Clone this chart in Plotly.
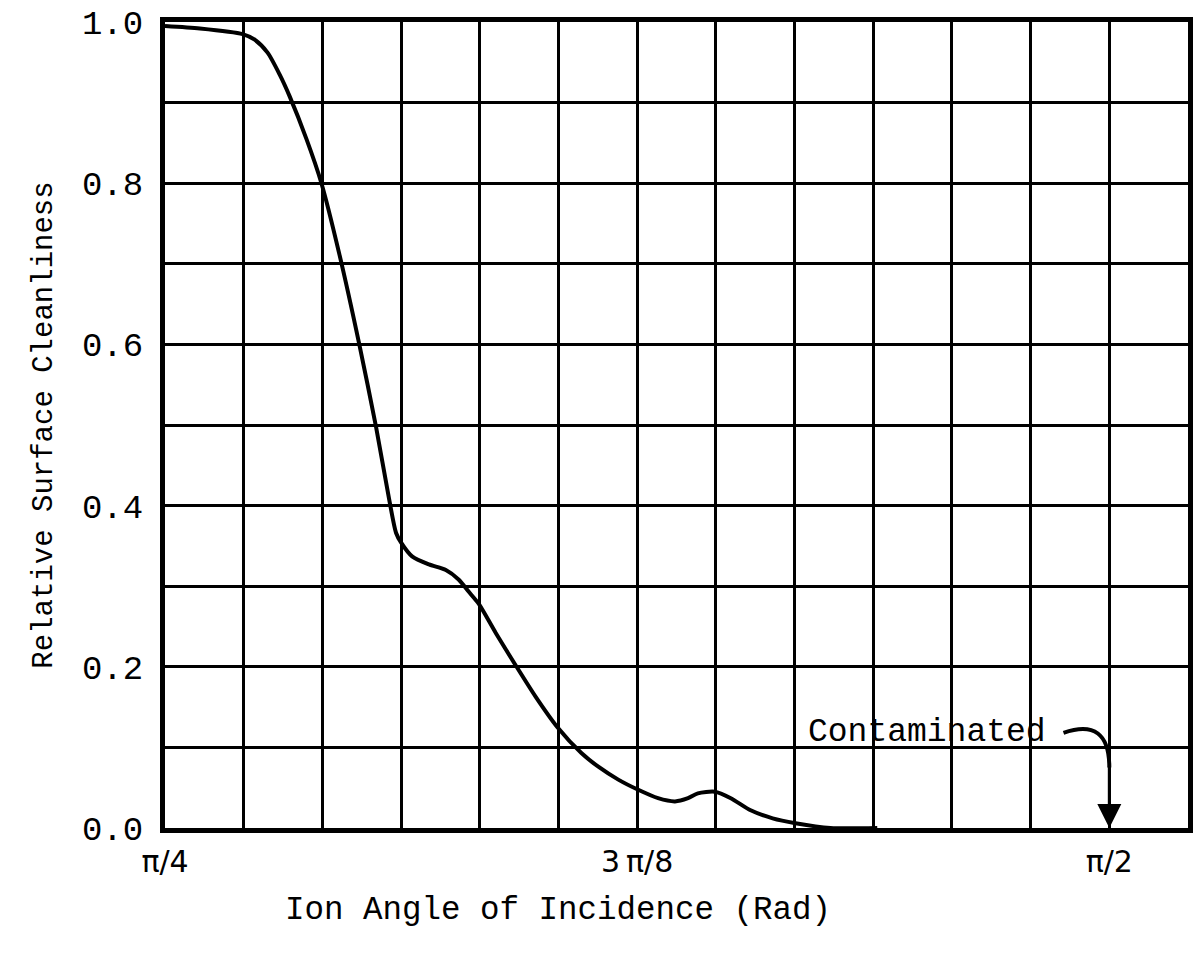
import plotly.graph_objects as go

# Ion angle of incidence (rad) and relative surface cleanliness
angle = [0.7854, 0.8144, 0.8500, 0.8600, 0.8707, 0.8807, 0.8890, 0.9030, 0.9155,
         0.9304, 0.9470, 0.9610, 0.9718, 0.9776, 0.9818, 0.9909, 1.0049, 1.0190,
         1.0298, 1.0381, 1.0464, 1.0605, 1.0770, 1.0936, 1.1118, 1.1317, 1.1458,
         1.1624, 1.1781, 1.1955, 1.2096, 1.2204, 1.2286, 1.2427, 1.2560, 1.2725,
         1.2908, 1.3098, 1.3388, 1.3778]
cleanliness = [0.995, 0.992, 0.985, 0.978, 0.962, 0.935, 0.908, 0.855, 0.800,
               0.712, 0.600, 0.497, 0.408, 0.366, 0.354, 0.337, 0.327, 0.320,
               0.308, 0.293, 0.278, 0.242, 0.202, 0.163, 0.125, 0.093, 0.076,
               0.060, 0.048, 0.037, 0.033, 0.037, 0.043, 0.045, 0.037, 0.022,
               0.012, 0.006, 0.0, 0.0]

PI = 3.141592653589793
x_grid_step = PI / 48
x_tickvals = [PI / 4 + k * x_grid_step for k in range(14)]
x_ticktext = ["π/4", "", "", "", "", "", "3\u2009π/8", "", "", "", "", "", "π/2", ""]
y_tickvals = [0.0, 0.1, 0.2, 0.3, 0.4, 0.5, 0.6, 0.7, 0.8, 0.9, 1.0]
y_ticktext = ["0.0", "", "0.2", "", "0.4", "", "0.6", "", "0.8", "", "1.0"]

MONO = "Liberation Mono, Courier New, monospace"

fig = go.Figure()
fig.add_trace(go.Scatter(
    x=angle, y=cleanliness, mode="lines",
    line=dict(color="black", width=4, shape="spline", smoothing=0.7),
    showlegend=False, hoverinfo="skip"))

fig.update_layout(
    width=1198, height=958,
    margin=dict(l=165, r=5, t=22, b=130),
    paper_bgcolor="white", plot_bgcolor="white",
    xaxis=dict(range=[PI / 4, PI / 2 + x_grid_step], tickmode="array",
               tickvals=x_tickvals, ticktext=x_ticktext,
               showgrid=True, gridcolor="black", gridwidth=3,
               showline=True, linecolor="black", linewidth=5, mirror=True,
               ticks="", zeroline=False, ticklabelstandoff=3,
               tickfont=dict(family="DejaVu Sans, sans-serif", size=30, color="black")),
    yaxis=dict(range=[0, 1.0], tickmode="array",
               tickvals=y_tickvals, ticktext=y_ticktext,
               showgrid=True, gridcolor="black", gridwidth=3,
               showline=True, linecolor="black", linewidth=5, mirror=True,
               ticks="", zeroline=False, ticklabelstandoff=10,
               tickfont=dict(family=MONO, size=34, color="black"),
               title=dict(text="Relative Surface Cleanliness",
                          font=dict(family=MONO, size=29, color="black"),
                          standoff=22)),
)

# x-axis title (offset to the left of plot centre, as in the original)
fig.add_annotation(text="Ion Angle of Incidence (Rad)", xref="paper", yref="paper",
                   x=(560 - 165) / 1028, y=-(910 - 828) / 806, xanchor="center",
                   yanchor="middle", showarrow=False,
                   font=dict(family=MONO, size=32.5, color="black"))

# "Contaminated" label with curved arrow pointing to pi/2
fig.add_annotation(text="Contaminated", x=1.4192, y=0.119, xref="x", yref="y",
                   showarrow=False, xanchor="center", yanchor="middle",
                   font=dict(family=MONO, size=33, color="black"))
fig.add_shape(type="path", xref="x", yref="y",
              path=f"M 1.5327,0.118 Q {PI/2:.4f},0.138 {PI/2:.4f},0.075",
              line=dict(color="black", width=4))
fig.add_annotation(x=PI / 2, y=0.0, ax=PI / 2, ay=0.078, xref="x", yref="y",
                   axref="x", ayref="y", showarrow=True, text="",
                   arrowhead=2, arrowsize=1.6, arrowwidth=3, arrowcolor="black")

fig.write_html("out.html")
